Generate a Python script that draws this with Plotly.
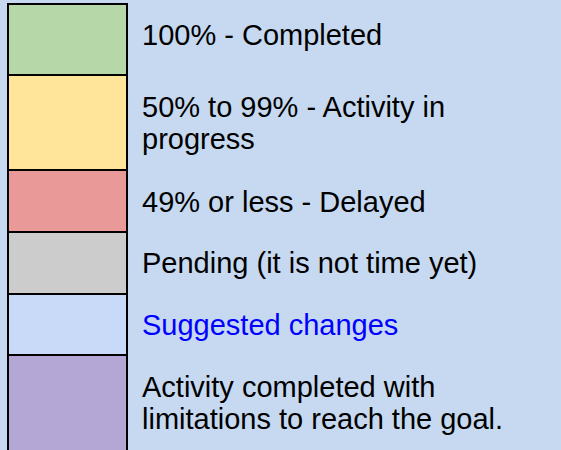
import plotly.graph_objects as go

labels = [
    ["100% - Completed"],
    ["50% to 99% - Activity in", "progress"],
    ["49% or less - Delayed"],
    ["Pending (it is not time yet)"],
    ["Suggested changes"],
    ["Activity completed with", "limitations to reach the goal."],
]
colors = ["#b6d7a8", "#ffe599", "#ea9999", "#cccccc", "#c9daf8", "#b4a7d6"]
text_colors = ["#000000", "#000000", "#000000", "#000000", "#0000ff", "#000000"]

# layout: row edges and first-line text positions in pixel-like axis units
edges = [4, 75, 170, 232, 294, 355, 460]
first_line_y = [35, 107, 202, 263, 325, 387]
line_gap = 32

fig = go.Figure()
for i, (lines, col) in enumerate(zip(labels, colors)):
    fig.add_trace(go.Bar(
        x=[67.5], y=[edges[i + 1] - edges[i]], base=[edges[i]],
        width=[119], marker=dict(color=col, line=dict(color="black", width=2)),
        hoverinfo="skip", showlegend=False,
    ))
    for j, line in enumerate(lines):
        fig.add_annotation(
            x=140, y=first_line_y[i] + j * line_gap, xref="x", yref="y", text=line,
            showarrow=False, xanchor="left", yanchor="middle", align="left",
            font=dict(family="Liberation Sans, Arial", size=29, color=text_colors[i]),
        )

fig.update_layout(
    width=561, height=450, margin=dict(l=0, r=0, t=0, b=0),
    paper_bgcolor="#c6d9f0", plot_bgcolor="#c6d9f0",
    barmode="overlay",
    xaxis=dict(range=[0, 561], visible=False, fixedrange=True),
    yaxis=dict(range=[450, 0], visible=False, fixedrange=True),
)
fig.write_html("out.html", config={"displayModeBar": False},
               post_script="document.body.style.margin='0';document.body.style.background='#c6d9f0';")
